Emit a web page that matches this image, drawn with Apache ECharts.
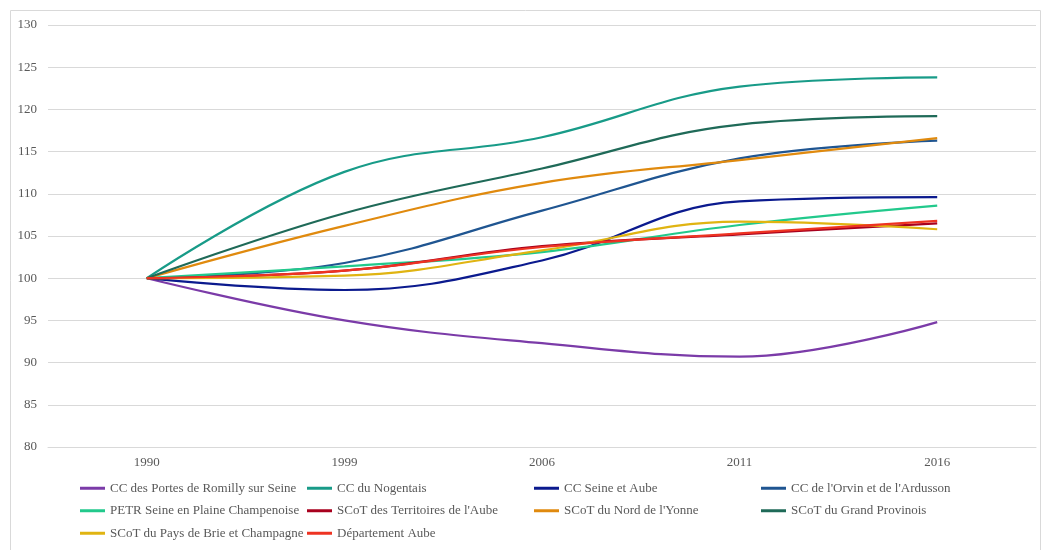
<!DOCTYPE html>
<html><head><meta charset="utf-8">
<script src="https://cdn.jsdelivr.net/npm/echarts@6/dist/echarts.min.js"></script>
<style>html,body{margin:0;padding:0;background:#fff}#c{width:1044px;height:550px}</style>
</head><body><div id="c"></div>
<script>
const years = ['1990','1999','2006','2011','2016'];
const romilly     = [100, 95.0, 92.3, 90.7, 94.8];
const nogentais   = [100, 112.6, 116.7, 122.7, 123.8];
const seineAube   = [100, 98.6, 102.1, 109.1, 109.6];
const orvin       = [100, 101.8, 108.0, 114.2, 116.3];
const petr        = [100, 101.4, 103.1, 106.3, 108.6];
const territoires = [100, 100.9, 103.8, 105.2, 106.5];
const nordYonne   = [100, 106.2, 111.3, 114.0, 116.6];
const provinois   = [100, 107.7, 113.0, 118.2, 119.2];
const brie        = [100, 100.3, 103.3, 106.7, 105.8];
const aube        = [100, 100.9, 103.7, 105.3, 106.8];

const names = ['CC des Portes de Romilly sur Seine','CC du Nogentais','CC Seine et Aube',"CC de l'Orvin et de l'Ardusson",
 'PETR Seine en Plaine Champenoise',"SCoT des Territoires de l'Aube","SCoT du Nord de l'Yonne",'SCoT du Grand Provinois',
 'SCoT du Pays de Brie et Champagne','Département Aube'];
const values = [romilly,nogentais,seineAube,orvin,petr,territoires,nordYonne,provinois,brie,aube];
const colors = ['#7B3BA8','#189B88','#0B1A8E','#1F5591','#22C98C','#A8001E','#E08A0E','#1F6A58','#E0B412','#EE3322'];

const chart = echarts.init(document.getElementById('c'));
chart.setOption({
  animation:false,
  color: colors,
  graphic:[{type:'rect',shape:{x:10.5,y:10.5,width:1030,height:545},style:{fill:'none',stroke:'#d9d9d9',lineWidth:1},silent:true}],
  grid:{left:48,right:8,top:25,bottom:103},
  legend:{
    left:75, top:472, width:920, itemGap:0, itemWidth:25, itemHeight:3,
    icon:'rect',
    textStyle:{fontFamily:'Liberation Serif',fontSize:13,color:'#595959',width:197,lineHeight:22.5,overflow:'truncate'},
    data:names
  },
  xAxis:{type:'category',data:years,boundaryGap:true,
    axisLine:{show:true,lineStyle:{color:'#d9d9d9'}},axisTick:{show:false},
    axisLabel:{fontFamily:'Liberation Serif',fontSize:13,color:'#595959',margin:9}},
  yAxis:{type:'value',min:80,max:130,interval:5,
    axisLine:{show:false},axisTick:{show:false},
    splitLine:{lineStyle:{color:'#d9d9d9'}},
    axisLabel:{fontFamily:'Liberation Serif',fontSize:13,color:'#595959',margin:11}},
  series: names.map((n,i)=>({name:n,type:'line',data:values[i],smooth:0.4,showSymbol:false,symbol:'none',
    lineStyle:{width:2.2,color:colors[i]}}))
});
</script></body></html>
